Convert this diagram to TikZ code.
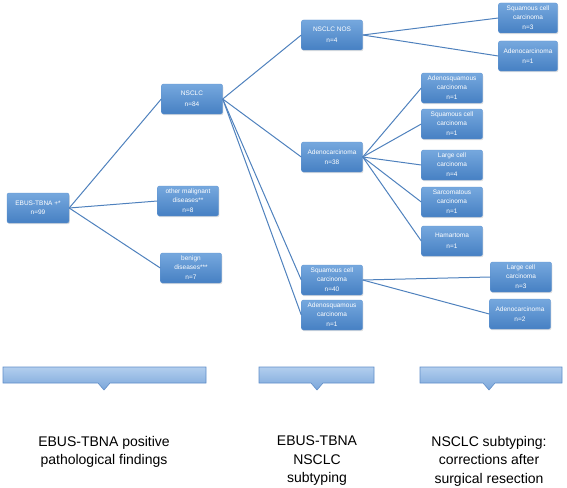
\documentclass[tikz,border=0pt]{standalone}
\usepackage{fontspec}
\setmainfont{Liberation Sans}
\usetikzlibrary{shapes,shadows,positioning,calc}

\definecolor{boxtop}{RGB}{118,168,222}
\definecolor{boxbot}{RGB}{70,128,195}
\definecolor{boxline}{RGB}{98,150,210}
\definecolor{linkblue}{RGB}{79,129,189}
\definecolor{bartop}{RGB}{178,206,238}
\definecolor{barbot}{RGB}{122,166,218}
\definecolor{barline}{RGB}{96,142,200}

\begin{document}
\begin{tikzpicture}[x=1pt, y=-1pt,
  box/.style={draw=boxline, rounded corners=2pt, top color=boxtop, bottom color=boxbot,
    text=white, align=center, font=\fontsize{6.5}{8.6}\selectfont, inner sep=1pt,
    minimum width=61pt, minimum height=30pt,
    drop shadow={opacity=0.25, shadow xshift=0.8pt, shadow yshift=-1.2pt}},
  link/.style={draw=linkblue, line width=1pt},
  bar/.style={draw=barline, line width=0.6pt, top color=bartop, bottom color=barbot},
  caption/.style={align=center, anchor=north, inner sep=0pt, font=\fontsize{14}{18.5}\selectfont}]
\useasboundingbox (0,0) rectangle (567,487);

% ausgangsbefund
\node[box, minimum width=62pt] (ebus) at (38,208) {EBUS-TBNA +*\\n=99};

% erste ebene
\node[box] (nsclc) at (192,99) {NSCLC\\[2pt]n=84};
\node[box] (othmal) at (188,201) {other malignant\\diseases**\\[2pt]n=8};
\node[box] (benign) at (191,268) {benign\\diseases***\\[2pt]n=7};

% subtypisierung
\node[box] (nos) at (332,35) {NSCLC NOS\\[2pt]n=4};
\node[box] (adeno) at (332,157) {Adenocarcinoma\\[2pt]n=38};
\node[box] (squam) at (332,280) {Squamous cell\\carcinoma\\[2pt]n=40};
\node[box] (adsq) at (332,315) {Adenosquamous\\carcinoma\\[2pt]n=1};

% korrekturen nach resektion
\node[box, minimum width=59pt] (nossq) at (528,18) {Squamous cell\\carcinoma\\[2pt]n=3};
\node[box, minimum width=59pt] (nosad) at (528,56) {Adenocarcinoma\\[2pt]n=1};
\node[box] (adadsq) at (452,88) {Adenosquamous\\carcinoma\\[2pt]n=1};
\node[box] (adsqc) at (452,124) {Squamous cell\\carcinoma\\[2pt]n=1};
\node[box] (adlc) at (452,165) {Large cell\\carcinoma\\[2pt]n=4};
\node[box] (adsarc) at (452,202) {Sarcomatous\\carcinoma\\[2pt]n=1};
\node[box] (adham) at (452,241) {Hamartoma\\[2pt]n=1};
\node[box] (sqlc) at (521,277) {Large cell\\carcinoma\\[2pt]n=3};
\node[box] (sqad) at (520,314) {Adenocarcinoma\\[2pt]n=2};

% verbindungen
\draw[link] (ebus.east) -- (nsclc.west);
\draw[link] (ebus.east) -- (othmal.west);
\draw[link] (ebus.east) -- (benign.west);
\draw[link] (nsclc.east) -- (nos.west);
\draw[link] (nsclc.east) -- (adeno.west);
\draw[link] (nsclc.east) -- (squam.west);
\draw[link] (nsclc.east) -- (adsq.west);
\draw[link] (nos.east) -- (nossq.west);
\draw[link] (nos.east) -- (nosad.west);
\draw[link] (adeno.east) -- (adadsq.west);
\draw[link] (adeno.east) -- (adsqc.west);
\draw[link] (adeno.east) -- (adlc.west);
\draw[link] (adeno.east) -- (adsarc.west);
\draw[link] (adeno.east) -- (adham.west);
\draw[link] (squam.east) -- (sqlc.west);
\draw[link] (squam.east) -- (sqad.west);

% balken
\draw[bar] (3,367) -- (206,367) -- (206,383) -- (110,383) -- (104,390) -- (98,383) -- (3,383) -- cycle;
\draw[bar] (259,367) -- (374,367) -- (374,383) -- (323,383) -- (317,390) -- (311,383) -- (259,383) -- cycle;
\draw[bar] (420,367) -- (562,367) -- (562,383) -- (495,383) -- (489,390) -- (483,383) -- (420,383) -- cycle;

% beschriftung
\node[caption] (cap1) at (104,436) {EBUS-TBNA positive\\pathological findings};
\node[caption] (cap2) at (317,436) {EBUS-TBNA\\NSCLC\\subtyping};
\node[caption] (cap3) at (489,436) {NSCLC subtyping:\\corrections after\\surgical resection};
\end{tikzpicture}
\end{document}
